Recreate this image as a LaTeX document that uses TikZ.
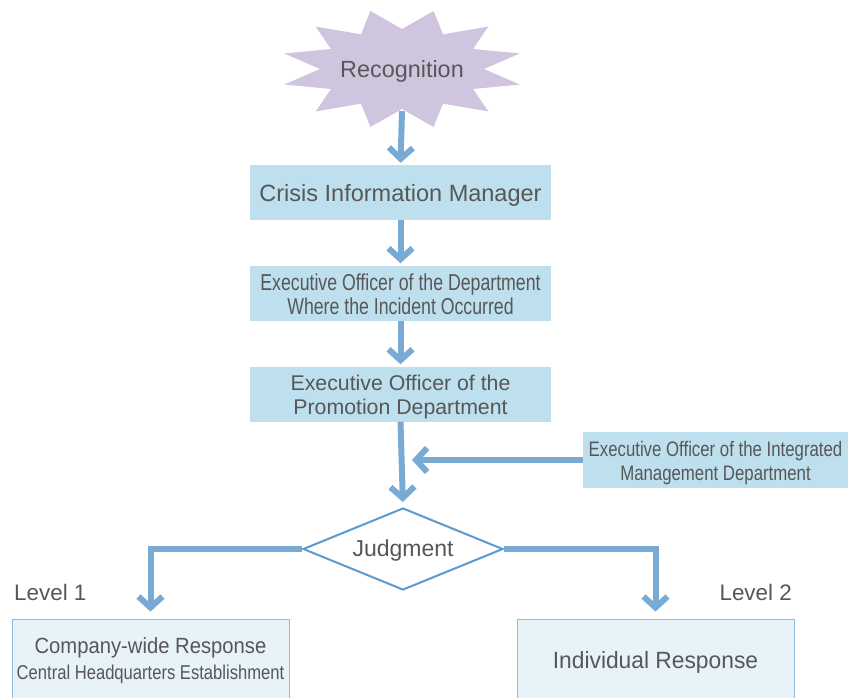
\documentclass[tikz,border=0pt]{standalone}
\usepackage{fontspec}
\setmainfont{Liberation Sans}
\newfontfamily\narrowfont[FakeStretch=0.77]{Liberation Sans}
\newfontfamily\intfont[FakeStretch=0.80]{Liberation Sans}
\newfontfamily\hqfont[FakeStretch=0.83]{Liberation Sans}
\newfontfamily\semifont[FakeStretch=0.92]{Liberation Sans}
\newfontfamily\indfont[FakeStretch=0.97]{Liberation Sans}
\usetikzlibrary{arrows.meta,shapes.geometric}
\definecolor{arrowblue}{HTML}{78AAD4}
\definecolor{boxblue}{HTML}{BEE0EE}
\definecolor{paleblue}{HTML}{E8F3F9}
\definecolor{paleedge}{HTML}{8CBDE0}
\definecolor{diamedge}{HTML}{5B9BD0}
\definecolor{starpurple}{HTML}{D0C5DF}
\definecolor{textgray}{HTML}{575757}
\begin{document}
\begin{tikzpicture}[x=1pt,y=-1pt,
  flow/.style={draw=arrowblue,line width=6pt,-{Straight Barb[length=11pt,width=24pt]}},
  box/.style={fill=boxblue,minimum width=301pt,minimum height=55pt,inner sep=0pt},
  txt/.style={text=textgray,align=center,inner sep=0pt,yshift=-3pt},
  pale/.style={fill=paleblue,draw=paleedge,line width=0.8pt,minimum width=277pt,minimum height=82pt,inner sep=0pt},
  lvl/.style={text=textgray,font=\fontsize{22.4}{26}\selectfont,inner sep=0pt}]
\useasboundingbox (0,0) rectangle (848,698);
\clip (0,0) rectangle (848,698);
% star
\fill[starpurple] plot[samples at={0,...,23},variable=\i]
  ({402+(102-20*cos(\i*180))*cos(\i*15)},{69+(50-10*cos(\i*180))*sin(\i*15)}) -- cycle;
\node[minimum height=80pt,inner sep=0pt,text=textgray,font=\fontsize{23.4}{28}\selectfont] (rec) at (402,71) {Recognition};
% boxes
\node[box,label={[txt,font=\fontsize{23.5}{28}\selectfont]center:{Crisis Information Manager}}] (cim) at (400.5,192.5) {};
\node[box,label={[txt,yshift=2pt,font=\narrowfont\fontsize{23}{24}\selectfont]center:{Executive Officer of the Department\\Where the Incident Occurred}}] (eod) at (400.5,293) {};
\node[box,label={[txt,font=\fontsize{21.3}{24}\selectfont]center:{Executive Officer of the\\Promotion Department}}] (eop) at (400.5,394) {};
\node[box,minimum width=265pt,minimum height=56pt,label={[txt,font=\intfont\fontsize{21}{24}\selectfont]center:{Executive Officer of the Integrated\\Management Department}}] (eoi) at (715.5,460) {};
\node[draw=diamedge,line width=2pt,fill=white,diamond,aspect=2.4,minimum width=200pt,minimum height=82pt,inner sep=0pt,label={[txt,yshift=1pt,font=\fontsize{23}{26}\selectfont]center:{Judgment}}] (jud) at (403,549) {};
\node[pale,label={[txt,yshift=2pt]center:{{\semifont\fontsize{22}{26}\selectfont Company-wide Response}\\[6pt]{\hqfont\fontsize{20}{24}\selectfont Central Headquarters Establishment}}}] (cwr) at (150.5,660) {};
\node[pale,label={[txt,yshift=1pt,font=\indfont\fontsize{23.5}{28}\selectfont]center:{Individual Response}}] (ind) at (655.5,660) {};
\node[lvl,anchor=west] (l1) at (14,592) {Level 1};
\node[lvl,anchor=east] (l2) at (792,592) {Level 2};
\coordinate (merge) at (412,460);
% connectors
\draw[flow,shorten >=2pt] (rec.south) -- (cim.north);
\draw[flow,shorten >=2pt] (cim.south) -- (eod.north);
\draw[flow,shorten >=2pt] (eod.south) -- (eop.north);
\draw[flow] (eoi.west) -- (merge);
\draw[flow,shorten >=5pt] (eop.south) -- (jud.north);
\draw[flow,shorten >=7pt] (jud.west) -| (cwr.north);
\draw[flow,shorten >=7pt] (jud.east) -| (ind.north);
\end{tikzpicture}
\end{document}
